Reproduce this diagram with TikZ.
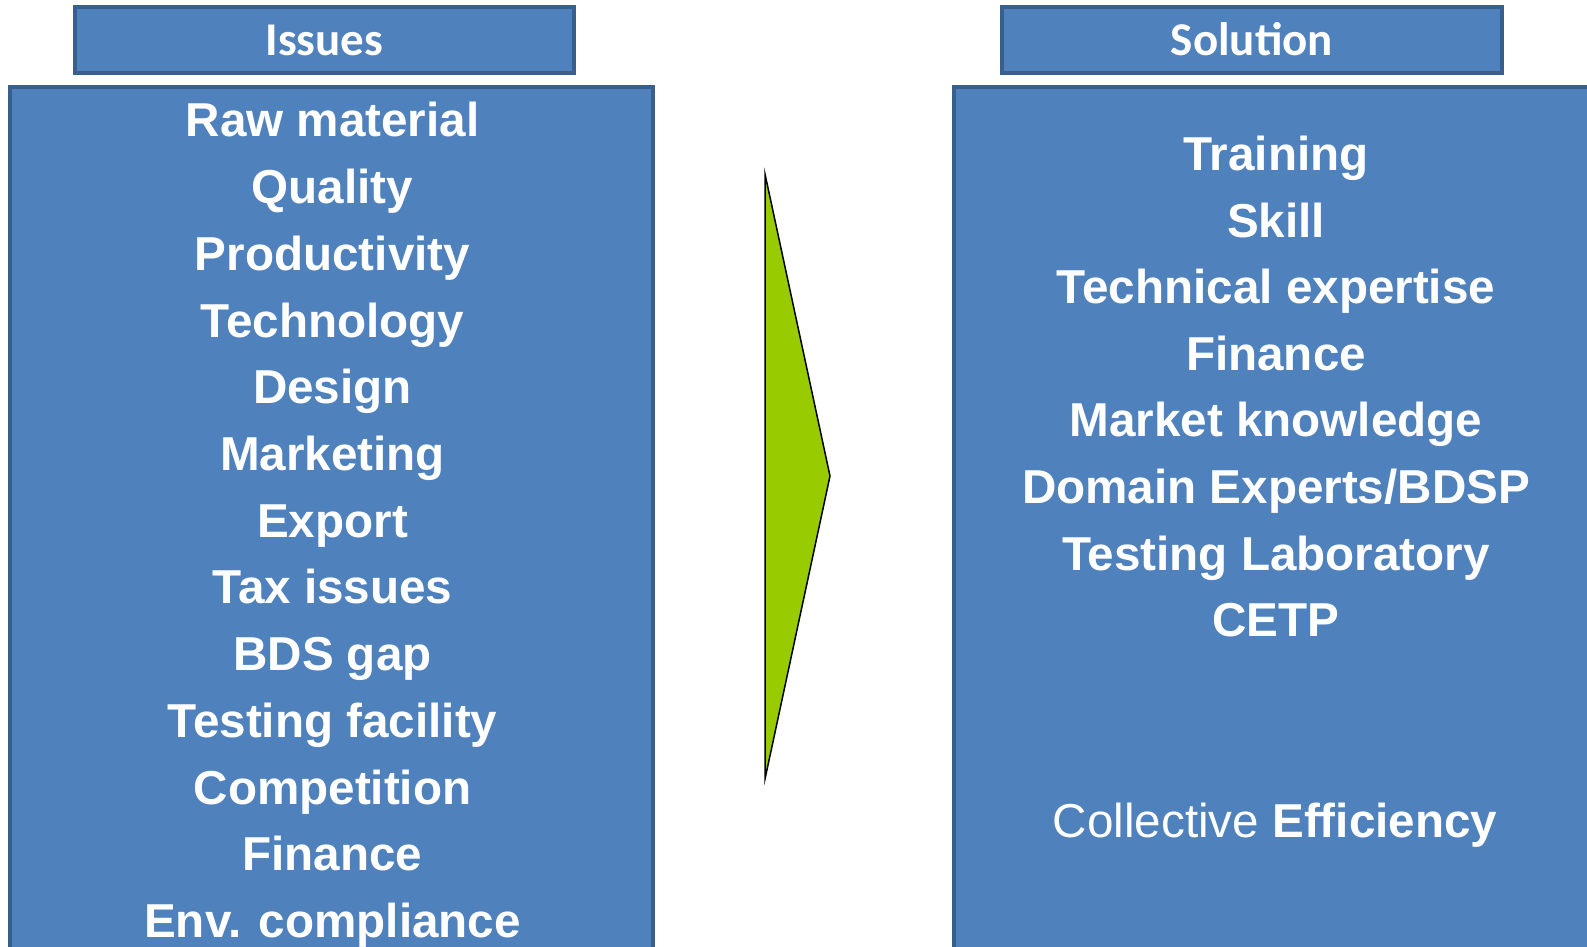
\documentclass[tikz,border=0pt]{standalone}
\usepackage{fontspec}
\setmainfont{Liberation Sans}
\newfontfamily\hdfont{Carlito}
\definecolor{boxfill}{HTML}{4F81BD}
\definecolor{boxline}{HTML}{3A5F8C}
\definecolor{arrowgreen}{HTML}{99CC00}
\begin{document}
\begin{tikzpicture}[x=1pt,y=-1pt,
  panel/.style={draw=boxline,fill=boxfill,line width=3.5pt},
  item/.style={anchor=base,text=white,font=\fontsize{47.6}{56}\selectfont\bfseries,inner sep=0pt},
  head/.style={anchor=base,text=white,font=\fontsize{47}{56}\selectfont\hdfont\bfseries,inner sep=0pt}]
\useasboundingbox (0,0) rectangle (1587,947);
\clip (0,0) rectangle (1587,947);
% panels
\draw[panel] (10,87) rectangle (653,990);
\draw[panel] (954,87) rectangle (1620,990);
\draw[panel] (75,7) rectangle (574,73);
\draw[panel] (1002,7) rectangle (1502,73);
% headers
\node[head] (hl) at (324.5,56) {Issues};
\node[head] (hr) at (1252,56) {Solution};
% left items
\foreach \t [count=\i from 0] in {Raw material,Quality,Productivity,Technology,Design,Marketing,Export,Tax issues,BDS gap,Testing facility,Competition,Finance,Env. compliance}
  \node[item] (l\i) at (332.5,137+66.7*\i) {\t};
% right items
\foreach \t [count=\i from 0] in {Training,Skill,Technical expertise,Finance,Market knowledge,Domain Experts/BDSP,Testing Laboratory,CETP}
  \node[item] (r\i) at (1276,170.5+66.6*\i) {\t};
\node[item] (ce) at (1275,837) {\mdseries Collective \bfseries Efficiency};
% arrow
\coordinate (at) at (765,174);
\coordinate (ap) at (830,476);
\coordinate (ab) at (765,779);
\draw[fill=arrowgreen,draw=black,line width=1.5pt,line join=miter] (at) -- (ap) -- (ab) -- cycle;
\end{tikzpicture}
\end{document}
